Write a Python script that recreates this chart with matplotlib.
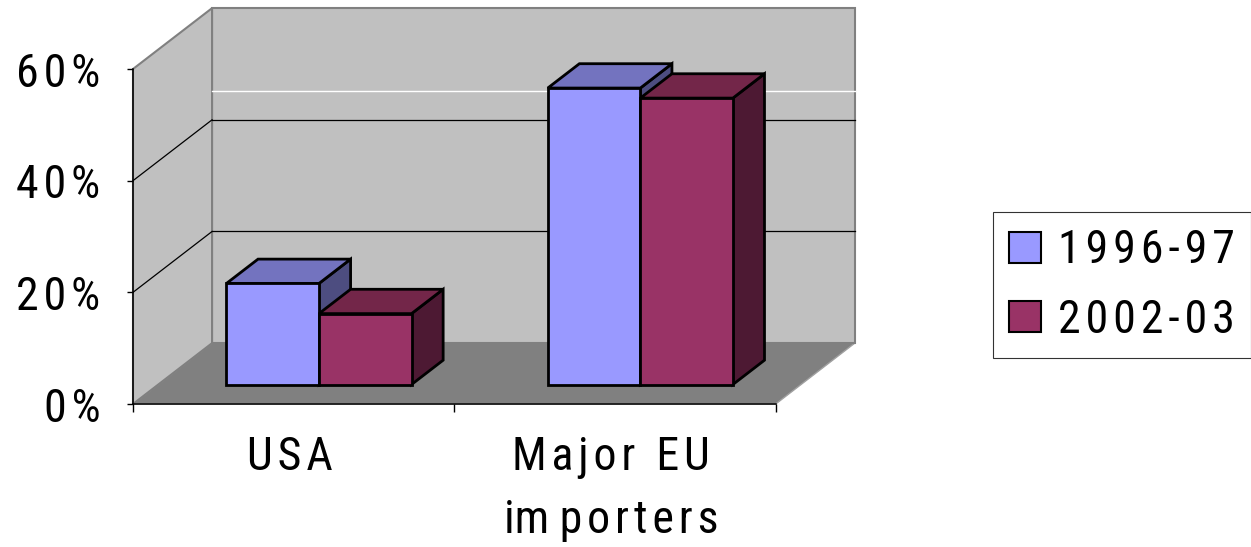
import numpy as np
import matplotlib.pyplot as plt
import matplotlib as mpl
from matplotlib.patches import Polygon, Patch

# data
categories = ["USA", "Major EU\nimporters"]
series = ["1996-97", "2002-03"]
val_9697 = [18.1, 53.1]
val_0203 = [12.7, 51.3]
yticks = [0, 20, 40, 60]
ytick_labels = ["0%", "20%", "40%", "60%"]

mpl.rcParams['font.family'] = ['Roboto Condensed', 'DejaVu Sans']
FS = 33
HS = '\u200a'   # hair space, the reference text is letter spaced

def spaced(s):
    # letter space each word, keep word gaps as plain spaces
    return '  '.join(HS.join(w) for w in s.split(' '))

# 3d look
DX, DY = 0.246, 10.9      # full depth offset (x units, % units)
D0, D1 = 0.32, 0.72       # bar depth range
BW = 0.288                # bar width
WALL = '#c0c0c0'
FLOOR = '#808080'
face_cols = [('#9999ff', '#7373bf', '#4d4d80'),
             ('#993366', '#732649', '#4d1933')]

def P(x, y, d):
    return (x + d*DX, y + d*DY)

fig = plt.figure(figsize=(12.51, 5.47), dpi=100)
ax = fig.add_axes([133/1251, 1 - 404/547, (775.7 - 133)/1251, (404 - 69)/547])
ax.patch.set_visible(False)
ax.set_xlim(0, 2)
ax.set_ylim(0, 60)

#=======#
# walls #
#=======#
floor = Polygon([P(0, 0, 0), P(2, 0, 0), P(2, 0, 1), P(0, 0, 1)], closed=True,
                fc=FLOOR, ec='#a0a0a0', lw=1.0, zorder=0.5, clip_on=False)
back = Polygon([P(0, 0, 1), P(2, 0, 1), P(2, 60, 1), P(0, 60, 1)], closed=True,
               fc=WALL, ec='#808080', lw=1.5, zorder=0.6, clip_on=False)
side = Polygon([P(0, 0, 0), P(0, 0, 1), P(0, 60, 1), P(0, 60, 0)], closed=True,
               fc=WALL, ec='#808080', lw=1.5, zorder=0.6, clip_on=False)
for p in (floor, back, side):
    ax.add_patch(p)

for v in yticks[1:-1]:
    xs, ys = zip(P(0, v, 1), P(2, v, 1))
    ax.plot(xs, ys, color='black', lw=0.9, zorder=1, clip_on=False)
    xs, ys = zip(P(0, v, 0), P(0, v, 1))
    ax.plot(xs, ys, color='black', lw=0.9, zorder=1, clip_on=False)
# faint white line on the back wall
xs, ys = zip(P(0, 45.1, 1), P(2, 45.1, 1))
ax.plot(xs, ys, color='white', lw=1.0, zorder=1, clip_on=False)

#======#
# bars #
#======#
def bar3d(x0, x1, v, cols):
    front, top, rside = cols
    kw = dict(closed=True, ec='black', lw=2.0, zorder=3, clip_on=False, joinstyle='miter')
    ax.add_patch(Polygon([P(x1, 0, D0), P(x1, 0, D1), P(x1, v, D1), P(x1, v, D0)], fc=rside, **kw))
    ax.add_patch(Polygon([P(x0, v, D0), P(x1, v, D0), P(x1, v, D1), P(x0, v, D1)], fc=top, **kw))
    ax.add_patch(Polygon([P(x0, 0, D0), P(x1, 0, D0), P(x1, v, D0), P(x0, v, D0)], fc=front, **kw))

for i in range(len(categories)):
    c = i + 0.5
    bar3d(c - BW, c, val_9697[i], face_cols[0])
    bar3d(c, c + BW, val_0203[i], face_cols[1])

#============#
# Formatting #
#============#
for s in ('top', 'right'):
    ax.spines[s].set_visible(False)
for s in ('left', 'bottom'):
    ax.spines[s].set_linewidth(1.1)
    ax.spines[s].set_zorder(4)
ax.set_yticks(yticks)
ax.set_yticklabels([spaced(t) for t in ytick_labels], fontsize=FS)
ax.set_xticks([0, 1, 2])
ax.set_xticklabels([])
ax.tick_params(axis='y', length=4.5, width=1, pad=19)
ax.tick_params(axis='x', length=6, width=1)

# category labels, one text per line so the baselines sit where they should
for i, lab in enumerate(categories):
    for j, line in enumerate(lab.split('\n')):
        if line.startswith('im'):
            txt = 'im ' + HS.join(line[2:])
        else:
            txt = spaced(line)
        ax.text(i + 0.487, -0.197 - j*0.188, txt, transform=ax.get_xaxis_transform(),
                ha='center', va='baseline', fontsize=FS)

handles = [Patch(fc=face_cols[k][0], ec='black', lw=1.5) for k in range(2)]
leg = fig.legend(handles, [spaced(s) for s in series], loc='upper left',
                 bbox_to_anchor=(993/1251, 1 - 212/547),
                 fontsize=FS, frameon=True, fancybox=False, edgecolor='black',
                 handlelength=0.68, handleheight=0.68, handletextpad=0.37,
                 borderpad=0.36, labelspacing=0.55, borderaxespad=0)
leg.get_frame().set_linewidth(0.8)

fig.savefig('out.png', dpi=100, facecolor='white')
